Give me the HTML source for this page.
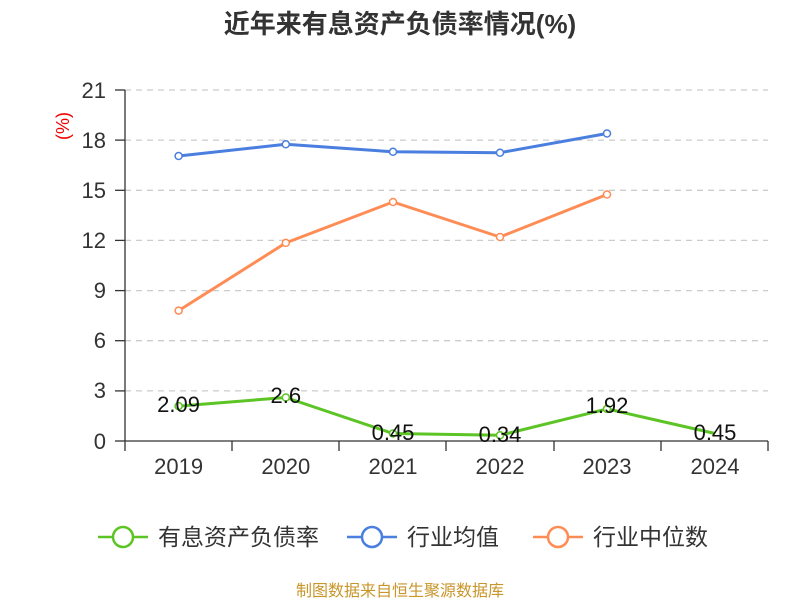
<!DOCTYPE html>
<html><head><meta charset="utf-8"><style>
html,body{margin:0;padding:0;background:#fff;}
svg{display:block;font-family:"Liberation Sans","Noto Sans CJK SC",sans-serif;}
</style></head><body>
<svg width="800" height="600" viewBox="0 0 800 600">
<text x="400" y="33" text-anchor="middle" font-size="26" font-weight="bold" fill="#333">近年来有息资产负债率情况(%)</text>
<text transform="translate(69,126) rotate(-90)" text-anchor="middle" font-size="18" fill="#e00">(%)</text>
<g stroke="#ccc" stroke-dasharray="6,5" stroke-width="1.3">
<line x1="125" y1="90" x2="768" y2="90"/><line x1="125" y1="140.1" x2="768" y2="140.1"/>
<line x1="125" y1="190.3" x2="768" y2="190.3"/><line x1="125" y1="240.4" x2="768" y2="240.4"/>
<line x1="125" y1="290.6" x2="768" y2="290.6"/><line x1="125" y1="340.7" x2="768" y2="340.7"/>
<line x1="125" y1="390.9" x2="768" y2="390.9"/>
</g>
<g stroke="#333" stroke-width="1.3">
<line x1="125" y1="90" x2="125" y2="441"/>
<line x1="115" y1="90" x2="125" y2="90"/><line x1="115" y1="140.1" x2="125" y2="140.1"/>
<line x1="115" y1="190.3" x2="125" y2="190.3"/><line x1="115" y1="240.4" x2="125" y2="240.4"/>
<line x1="115" y1="290.6" x2="125" y2="290.6"/><line x1="115" y1="340.7" x2="125" y2="340.7"/>
<line x1="115" y1="390.9" x2="125" y2="390.9"/><line x1="115" y1="441" x2="125" y2="441"/>
<line x1="125" y1="441" x2="768" y2="441"/>
<line x1="125" y1="441" x2="125" y2="451"/><line x1="232" y1="441" x2="232" y2="451"/>
<line x1="339" y1="441" x2="339" y2="451"/><line x1="446" y1="441" x2="446" y2="451"/>
<line x1="554" y1="441" x2="554" y2="451"/><line x1="661" y1="441" x2="661" y2="451"/>
<line x1="768" y1="441" x2="768" y2="451"/>
</g>
<g font-size="22" fill="#333" text-anchor="end">
<text x="106" y="98">21</text><text x="106" y="148">18</text><text x="106" y="198">15</text>
<text x="106" y="248">12</text><text x="106" y="298">9</text><text x="106" y="348">6</text>
<text x="106" y="398">3</text><text x="106" y="449">0</text>
</g>
<g font-size="22" fill="#333" text-anchor="middle">
<text x="178.6" y="474">2019</text><text x="285.8" y="474">2020</text><text x="393" y="474">2021</text>
<text x="500" y="474">2022</text><text x="607" y="474">2023</text><text x="715" y="474">2024</text>
</g>
<g fill="none" stroke-width="3" stroke-linejoin="round">
<polyline stroke="#4a7fe0" points="178.6,156 285.8,144.3 393,151.8 500,152.7 607,133.5"/>
<polyline stroke="#ff8c55" points="178.6,310.6 285.8,242.9 393,202 500,237 607,194.5"/>
<polyline stroke="#5cc424" points="178.6,406.1 285.8,397.5 393,433.5 500,435.3 607,408.9 715,433.5"/>
</g>
<g fill="#fff" stroke-width="1.5">
<g stroke="#4a7fe0"><circle cx="178.6" cy="156" r="3.5"/><circle cx="285.8" cy="144.3" r="3.5"/><circle cx="393" cy="151.8" r="3.5"/><circle cx="500" cy="152.7" r="3.5"/><circle cx="607" cy="133.5" r="3.5"/></g>
<g stroke="#ff8c55"><circle cx="178.6" cy="310.6" r="3.5"/><circle cx="285.8" cy="242.9" r="3.5"/><circle cx="393" cy="202" r="3.5"/><circle cx="500" cy="237" r="3.5"/><circle cx="607" cy="194.5" r="3.5"/></g>
<g stroke="#5cc424"><circle cx="178.6" cy="406.1" r="3.5"/><circle cx="285.8" cy="397.5" r="3.5"/><circle cx="393" cy="433.5" r="3.5"/><circle cx="500" cy="435.3" r="3.5"/><circle cx="607" cy="408.9" r="3.5"/></g>
</g>
<g font-size="22" fill="#111" text-anchor="middle">
<text x="178.6" y="412">2.09</text><text x="285.8" y="403">2.6</text><text x="393" y="440">0.45</text>
<text x="500" y="442">0.34</text><text x="607" y="413">1.92</text><text x="715" y="440">0.45</text>
</g>
<g stroke-width="2.5" fill="#fff">
<line x1="98" y1="537" x2="148" y2="537" stroke="#5cc424"/><circle cx="123" cy="537" r="10" stroke="#5cc424"/>
<line x1="347" y1="537" x2="397" y2="537" stroke="#4a7fe0"/><circle cx="372" cy="537" r="10" stroke="#4a7fe0"/>
<line x1="533" y1="537" x2="583" y2="537" stroke="#ff8c55"/><circle cx="558" cy="537" r="10" stroke="#ff8c55"/>
</g>
<g font-size="23" fill="#333">
<text x="158" y="545">有息资产负债率</text><text x="407" y="545">行业均值</text><text x="593" y="545">行业中位数</text>
</g>
<text x="400" y="596" text-anchor="middle" font-size="16" fill="#c8962a">制图数据来自恒生聚源数据库</text>
</svg>
</body></html>
